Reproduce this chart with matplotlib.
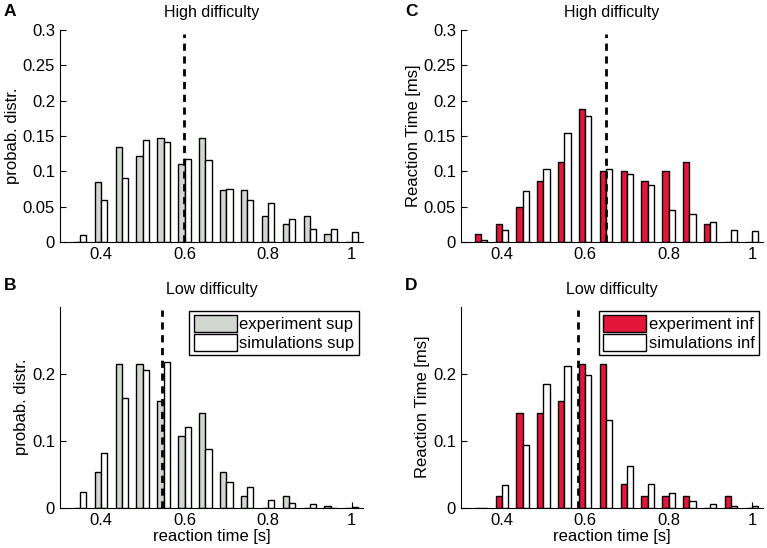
import numpy as np
import matplotlib.pyplot as plt

plt.rcParams['font.family'] = ['Liberation Sans', 'DejaVu Sans']

# bin centres (s)
bins = [0.35, 0.40, 0.45, 0.50, 0.55, 0.60, 0.65, 0.70, 0.75, 0.80, 0.85, 0.90, 0.95, 1.00]

# A: sup, high difficulty
exp_sup_high = [0, 0.085, 0.134, 0.122, 0.147, 0.110, 0.147, 0.074, 0.074, 0.037, 0.025, 0.037, 0.012, 0]
sim_sup_high = [0.010, 0.059, 0.091, 0.145, 0.141, 0.117, 0.116, 0.075, 0.060, 0.055, 0.033, 0.018, 0.018, 0.014]
# B: sup, low difficulty
exp_sup_low = [0, 0.054, 0.214, 0.214, 0.160, 0.107, 0.142, 0.054, 0.018, 0, 0.018, 0, 0.002, 0]
sim_sup_low = [0.023, 0.082, 0.164, 0.205, 0.217, 0.121, 0.088, 0.038, 0.031, 0.011, 0.007, 0.005, 0, 0.001]
# C: inf, high difficulty
exp_inf_high = [0.012, 0.025, 0.050, 0.087, 0.113, 0.188, 0.100, 0.100, 0.087, 0.100, 0.113, 0.025, 0, 0]
sim_inf_high = [0.003, 0.017, 0.072, 0.103, 0.154, 0.178, 0.103, 0.096, 0.081, 0.045, 0.040, 0.028, 0.017, 0.015]
# D: inf, low difficulty
exp_inf_low = [0, 0.018, 0.142, 0.142, 0.160, 0.214, 0.214, 0.035, 0.018, 0.018, 0.018, 0, 0.018, 0]
sim_inf_low = [0, 0.034, 0.094, 0.185, 0.211, 0.198, 0.131, 0.063, 0.036, 0.022, 0.010, 0.005, 0.002, 0.002]

# mean reaction times (dashed lines)
mean_rt = {'A': 0.598, 'B': 0.546, 'C': 0.651, 'D': 0.582}

gray = '#d2d8d0'
red = '#e3173a'
w = 0.015

fig = plt.figure(figsize=(7.67, 5.48), dpi=100)
axA = fig.add_axes([0.0782, 0.5584, 0.395, 0.3869])
axB = fig.add_axes([0.0782, 0.0735, 0.395, 0.3668])
axC = fig.add_axes([0.601, 0.5584, 0.394, 0.3869])
axD = fig.add_axes([0.601, 0.0735, 0.394, 0.3668])

panels = [
    (axA, 'A', exp_sup_high, sim_sup_high, gray, 'High difficulty', 'probab. distr.', False, 'sup'),
    (axB, 'B', exp_sup_low, sim_sup_low, gray, 'Low difficulty', 'probab. distr.', True, 'sup'),
    (axC, 'C', exp_inf_high, sim_inf_high, red, 'High difficulty', 'Reaction Time [ms]', False, 'inf'),
    (axD, 'D', exp_inf_low, sim_inf_low, red, 'Low difficulty', 'Reaction Time [ms]', True, 'inf'),
]

x = np.array(bins)
for ax, letter, e, s, col, title, ylab, low, tag in panels:
    ax.bar(x - w / 2, e, width=w, color=col, edgecolor='black', linewidth=1.0,
           label='experiment ' + tag)
    ax.bar(x + w / 2, s, width=w, color='white', edgecolor='black', linewidth=1.0,
           label='simulations ' + tag)
    ax.plot([mean_rt[letter]] * 2, [0, 0.295], color='black', linestyle='--',
            linewidth=2, dashes=(2.6, 2))
    ax.set_xlim(0.302, 1.027)
    ax.set_ylim(0, 0.3)
    ax.set_xticks([0.4, 0.6, 0.8, 1.0])
    ax.set_xticklabels(['0.4', '0.6', '0.8', '1'])
    if low:
        ax.set_yticks([0, 0.1, 0.2])
        ax.set_yticklabels(['0', '0.1', '0.2'])
        ax.set_xlabel('reaction time [s]', fontsize=12, labelpad=1)
        leg = ax.legend(loc='upper right', fontsize=12, handlelength=2.6,
                        handleheight=1.15, handletextpad=0.15, borderpad=0.25,
                        labelspacing=0.12, borderaxespad=0.25, fancybox=False,
                        framealpha=1, edgecolor='black')
        leg.get_frame().set_linewidth(1.0)
    else:
        ax.set_yticks([0, 0.05, 0.1, 0.15, 0.2, 0.25, 0.3])
        ax.set_yticklabels(['0', '0.05', '0.1', '0.15', '0.2', '0.25', '0.3'])
    ax.set_ylabel(ylab, fontsize=12, labelpad=2)
    ax.set_title(title, fontsize=11.5, pad=9)
    ax.spines['top'].set_visible(False)
    ax.spines['right'].set_visible(False)
    ax.tick_params(direction='in', labelsize=12, length=4)
    ytext = 1.085 if not low else 1.108
    ax.text(-0.185, ytext, letter, transform=ax.transAxes, ha='left',
            fontsize=12.5, fontweight='bold', va='center')

fig.savefig('out.png', dpi=100)
